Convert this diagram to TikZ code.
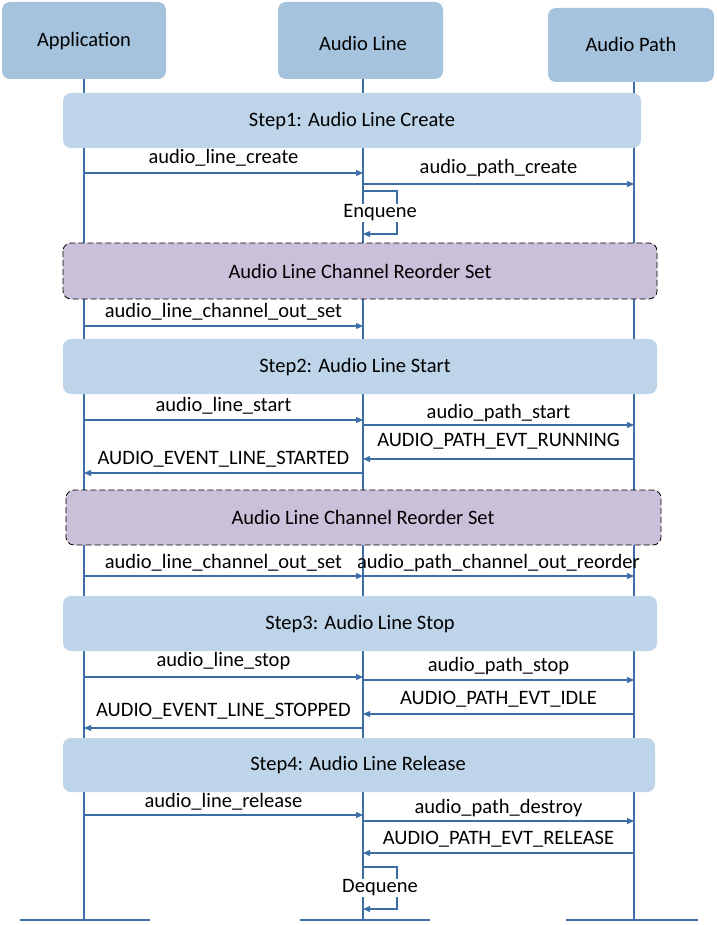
\documentclass[tikz,border=0pt]{standalone}
\usepackage{fontspec}
\setmainfont{Carlito}
\usetikzlibrary{arrows.meta}
\definecolor{hdr}{HTML}{A5C3DD}
\definecolor{stp}{HTML}{BED4E9}
\definecolor{pur}{HTML}{CBC0D9}
\definecolor{ln}{HTML}{3D6EA6}
\begin{document}
\begin{tikzpicture}[x=1pt,y=-1pt,font=\fontsize{20.5}{23}\selectfont,
  hdrbox/.style={fill=hdr,rounded corners=8pt,draw=none},
  stepbox/.style={fill=stp,rounded corners=8pt,draw=none},
  purbox/.style={fill=pur,rounded corners=8pt,draw=black,dash pattern=on 6pt off 3pt,line width=0.8pt},
  life/.style={draw=ln,line width=1.2pt},
  msg/.style={draw=ln,line width=1.2pt,-{Triangle[length=7pt,width=6pt]}},
  lbl/.style={inner sep=0pt}]
\useasboundingbox (0,0) rectangle (716,925);
% lifelines
\draw[life] (84,79) -- (84,920);
\draw[life] (363,79) -- (363,920);
\draw[life] (634,82) -- (634,920);
\draw[life] (20,920) -- (150,920);
\draw[life] (300,920) -- (430,920);
\draw[life] (566,920) -- (698,920);
% headers
\path[hdrbox] (2,2) rectangle (166,79); \node (app) at (84,41) {Application};
\path[hdrbox] (278,2) rectangle (443,79); \node (line) at (363,43) {Audio Line};
\path[hdrbox] (548,8) rectangle (714,82); \node (path) at (631,44) {Audio Path};
% step boxes
\path[stepbox] (63,93) rectangle (641,148); \node (s1) at (352,121) {Step1: Audio Line Create};
\path[purbox] (63,243) rectangle (657,299); \node (r1) at (360,271) {Audio Line Channel Reorder Set};
\path[stepbox] (63,339) rectangle (657,394); \node (s2) at (355,367) {Step2: Audio Line Start};
\path[purbox] (66,490) rectangle (661,545); \node (r2) at (363,517) {Audio Line Channel Reorder Set};
\path[stepbox] (63,596) rectangle (657,651); \node (s3) at (360,624) {Step3: Audio Line Stop};
\path[stepbox] (63,738) rectangle (655,792); \node (s4) at (358,765) {Step4: Audio Line Release};
% messages
\newcommand\mymsg[6]{%
  \coordinate (#6a) at (#2,#1); \coordinate (#6b) at (#3,#1);
  \draw[msg] (#6a) -- (#6b);
  \node[lbl] (#6) at ({(#2+#3)/2},#5) {#4};}
\mymsg{173}{84}{363}{audio\_line\_create}{158}{m1}
\mymsg{184}{363}{634}{audio\_path\_create}{168}{m2}
\mymsg{326}{84}{363}{audio\_line\_channel\_out\_set}{312}{m3}
\mymsg{420}{84}{363}{audio\_line\_start}{406}{m4}
\mymsg{425}{363}{634}{audio\_path\_start}{413}{m5}
\mymsg{459}{634}{363}{AUDIO\_PATH\_EVT\_RUNNING}{441}{m6}
\mymsg{473}{363}{84}{AUDIO\_EVENT\_LINE\_STARTED}{459}{m7}
\mymsg{576}{84}{363}{audio\_line\_channel\_out\_set}{563}{m8}
\mymsg{576}{363}{634}{audio\_path\_channel\_out\_reorder}{563}{m9}
\mymsg{677}{84}{363}{audio\_line\_stop}{661}{m10}
\mymsg{680}{363}{634}{audio\_path\_stop}{666}{m11}
\mymsg{714}{634}{363}{AUDIO\_PATH\_EVT\_IDLE}{699}{m12}
\mymsg{728}{363}{84}{AUDIO\_EVENT\_LINE\_STOPPED}{711}{m13}
\mymsg{815}{84}{363}{audio\_line\_release}{802}{m14}
\mymsg{821}{363}{634}{audio\_path\_destroy}{808}{m15}
\mymsg{853}{634}{363}{AUDIO\_PATH\_EVT\_RELEASE}{839}{m16}
% self loops
\coordinate (e1) at (363,191); \coordinate (e2) at (363,234);
\draw[msg] (e1) -- (397,191) -- (397,234) -- (e2);
\node[lbl,fill=white,inner sep=1pt] (enq) at (380,213) {Enquene};
\coordinate (d1) at (363,867); \coordinate (d2) at (363,909);
\draw[msg] (d1) -- (397,867) -- (397,909) -- (d2);
\node[lbl,fill=white,inner sep=1pt] (deq) at (380,888) {Dequene};
\end{tikzpicture}
\end{document}
